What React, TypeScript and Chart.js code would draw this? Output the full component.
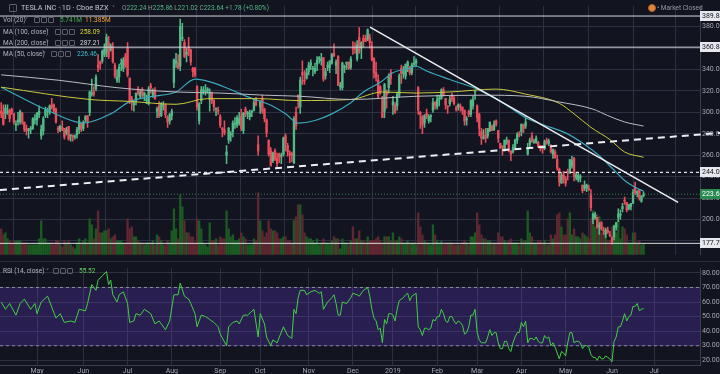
import React, { useEffect, useRef } from 'react';
import { Chart, registerables } from 'chart.js';

Chart.register(...registerables);

// ---------------- DATA (daily, TSLA, Apr 6 2018 .. Jun 24 2019) ----------------
const opens = [
  301,300,299,300,302,303,299,288,291,291,
  299,291,285,283,284,285,293,293,298,278,
  283,297,301,300,307,307,303,285,283,286,
  285,281,287,278,278,277,279,284,290,285,
  293,297,300,317,319,322,344,347,348,354,
  356,365,358,361,344,330,333,345,341,353,
  360,332,313,307,311,322,315,321,315,311,
  308,325,316,321,301,306,297,306,307,295,
  292,297,328,346,346,343,369,365,354,361,
  358,341,341,324,292,311,320,319,320,312,
  318,311,303,302,296,285,284,260,274,279,
  282,289,288,290,296,283,303,299,296,300,
  302,312,270,305,313,303,293,274,264,255,
  264,257,261,259,261,278,269,262,261,253,
  300,316,305,337,330,332,338,344,340,338,
  345,350,348,351,334,342,342,346,355,344,
  352,324,323,342,345,347,342,360,360,350,
  370,360,369,369,368,370,362,350,337,330,
  324,314,301,319,323,337,307,307,306,316,
  341,336,334,343,342,337,345,346,323,300,
  296,290,299,292,296,302,309,305,312,313,
  321,313,306,308,316,313,304,305,306,305,
  302,293,301,298,306,319,306,298,282,276,
  279,278,283,287,284,292,283,271,268,264,
  272,274,264,263,267,274,280,282,288,287,
  261,270,278,272,272,272,269,267,266,274,
  271,269,261,263,256,247,234,242,238,245,
  243,250,257,239,237,239,232,229,229,229,
  224,200,202,202,193,197,190,186,190,186,
  183,184,193,202,204,210,218,216,210,212,
  215,230,224,228,217,222.24,
];
const highs = [
  309,307,307,307,303,304,299,292,300,302,
  300,291,288,285,287,295,298,300,306,288,
  296,305,304,307,313,308,304,287,288,292,
  285,286,287,279,279,279,286,296,290,292,
  297,297,320,331,324,335,354,348,358,364,
  373,371,364,365,346,340,345,350,351,355,
  365,332,315,310,318,324,321,323,319,316,
  324,327,322,323,305,310,309,310,308,297,
  299,303,350,355,354,387,383,368,360,370,
  359,342,342,325,309,324,324,326,323,322,
  319,312,304,305,298,286,292,269,286,282,
  292,295,297,300,303,300,305,301,302,302,
  313,314,278,311,316,304,294,274,267,263,
  266,262,262,262,277,280,271,264,263,296,
  305,316,333,348,339,341,347,349,343,346,
  352,352,355,351,341,347,348,355,364,349,
  353,328,347,344,347,347,352,366,365,367,
  379,366,372,372,378,373,366,351,347,335,
  325,315,327,321,336,340,315,309,319,336,
  344,343,345,348,343,346,352,350,324,301,
  297,298,303,298,298,313,310,316,316,322,
  323,313,306,315,318,315,306,308,308,305,
  302,296,302,312,315,320,307,299,285,284,
  285,285,291,288,292,293,283,271,269,274,
  277,274,264,270,275,281,282,289,289,296,
  271,276,281,275,278,273,269,269,274,276,
  275,270,266,265,260,248,244,245,240,247,
  256,259,258,244,243,242,232,236,233,232,
  228,206,207,202,197,198,193,192,193,189,
  184,194,197,210,209,215,221,216,214,215,
  228,235,227,228,222,225.86,
];
const lows = [
  295,288,294,298,291,298,289,283,288,289,
  289,282,279,276,280,284,289,288,295,275,
  279,295,295,298,303,299,290,281,282,283,
  275,279,274,273,273,275,276,280,282,283,
  291,286,297,315,315,320,338,340,346,352,
  352,350,357,346,332,328,328,339,338,342,
  333,308,302,301,307,316,313,314,311,308,
  307,318,314,312,295,295,296,302,295,286,
  289,293,323,342,341,339,367,351,347,353,
  344,333,333,302,289,308,317,316,318,301,
  308,301,297,298,286,277,279,252,271,273,
  277,285,286,288,283,280,296,294,293,296,
  301,306,260,299,299,291,277,259,250,253,
  255,249,253,252,259,264,259,253,254,252,
  284,304,299,326,326,331,335,340,334,336,
  339,346,344,329,331,339,337,345,352,336,
  325,321,321,337,340,340,340,354,355,348,
  355,350,361,366,367,360,348,332,329,313,
  317,295,295,304,318,326,298,299,302,314,
  327,332,331,338,335,335,343,343,298,285,
  280,286,294,290,291,300,303,303,306,312,
  315,303,299,306,310,307,301,302,301,298,
  288,288,296,296,303,312,291,278,270,275,
  272,276,282,283,283,287,272,266,260,264,
  270,263,255,262,266,271,277,278,281,285,
  260,268,272,271,271,267,264,262,265,270,
  269,262,257,257,246,231,234,234,231,237,
  243,248,236,237,235,235,225,227,226,227,
  208,196,200,192,186,190,186,183,187,184,
  177,181,190,198,200,207,214,207,209,209,
  215,223,221,218,216,221.02,
];
const closes = [
  299,289,304,301,294,300,291,288,293,301,
  291,284,283,283,285,294,293,299,301,284,
  294,302,301,306,305,301,291,284,287,285,
  277,284,275,279,277,278,284,292,284,291,
  296,291,319,317,317,333,342,345,357,359,
  370,352,362,347,334,333,342,345,349,343,
  335,310,309,309,318,318,319,316,318,311,
  322,323,320,313,303,297,308,306,298,291,
  298,301,349,348,341,380,370,352,356,357,
  347,338,335,305,308,321,321,320,322,319,
  311,305,303,301,288,284,281,263,285,280,
  290,289,295,294,285,299,298,299,299,300,
  309,307,264,310,301,294,281,261,250,262,
  256,252,258,259,276,271,263,260,260,294,
  288,314,330,335,329,337,344,346,341,341,
  349,351,350,331,338,344,348,354,353,347,
  325,325,346,343,347,341,350,359,359,363,
  357,365,366,366,377,365,349,337,333,315,
  319,295,326,316,333,332,310,300,317,334,
  336,338,345,347,337,344,345,348,302,298,
  288,297,297,296,297,309,307,312,313,321,
  316,307,305,312,312,308,303,307,305,302,
  292,294,298,311,312,319,295,285,276,276,
  276,285,291,283,289,289,276,267,267,274,
  274,264,261,267,274,279,279,289,285,291,
  267,274,273,272,276,268,267,266,273,271,
  273,263,265,258,248,235,241,238,234,244,
  256,255,240,242,241,240,227,232,232,228,
  211,205,205,193,195,191,189,190,188,185,
  179,194,197,205,205,212,217,209,214,215,
  225,225,226,220,222,223.64,
];
// volume, millions of shares
const volumes = [
  13,10,11,8,7,6,7,7,7,7,
  6,6,6,5,5,5,5,5,8,17,
  8,8,6,6,6,5,7,7,5,4,
  7,6,7,5,4,3,6,8,6,7,
  8,6,18,15,8,13,22,11,11,12,
  12,13,8,9,10,7,7,7,6,6,
  18,13,14,9,9,7,6,6,5,6,
  6,6,7,5,10,9,7,5,5,7,
  6,12,23,13,8,30,24,17,11,11,
  9,9,6,18,17,13,6,5,4,16,
  7,7,8,5,9,8,8,22,13,9,
  10,7,7,8,11,9,8,5,5,5,
  8,7,31,17,12,9,11,17,13,12,
  12,11,8,8,9,9,7,7,6,17,
  19,25,25,20,11,9,8,8,7,6,
  8,5,6,8,6,6,5,7,9,8,
  8,3,8,6,6,5,7,14,8,8,
  12,7,7,6,9,7,7,7,8,9,
  7,6,9,9,9,7,11,7,7,9,
  8,6,6,7,6,6,6,5,21,14,
  10,7,6,6,5,15,10,7,6,7,
  5,6,6,6,6,5,5,5,5,6,
  7,6,5,9,9,11,21,15,10,8,
  8,7,7,6,6,6,11,9,9,7,
  6,7,8,6,6,6,5,8,7,7,
  22,11,9,6,6,7,7,6,7,5,
  5,10,8,10,20,21,14,10,10,18,
  21,10,13,9,9,8,11,10,9,8,
  18,22,14,20,19,11,10,13,7,7,
  14,15,11,18,8,14,13,10,6,6,
  11,11,6,7,5,5.741,
];

// moving averages (trading-day index, value)
const ma50Days = [0,23,39,52,61,71,83,92,100,108,119,127,135,141,149,157,166,172,180,186,194,197,202,213,226,235,242,249,258,268,277,284,290,296,301,305];
const ma50Values = [323.5,301,290,298.6,310,314.6,319,331,328,322,313,307.5,298.6,290,292.4,298.6,309,319,328,337,341,343,338.6,330.6,321.7,312.8,304,295,288,280.8,270,259.5,248,236.4,230,226.46];
const ma100Days = [0,42,61,83,98,122,141,166,181,197,213,235,249,265,272,280,289,296,305];
const ma100Values = [323.5,312,310.2,307.5,312.8,312.8,311,312,319,318,319,321.7,317,308.4,298.6,286,274.6,263,258.09];
const ma200Days = [0,27,55,83,104,125,142,166,197,229,249,264,281,288,296,305];
const ma200Values = [335,330,323,319,318,316,315,312,315,316,315,310,303,297,291,287.21];

// RSI(14)
const rsiDays = [0,2,4,7,9,11,14,16,17,19,22,26,28,30,33,35,37,40,41,43,45,46,48,50,51,52,53,55,56,58,60,61,63,64,66,68,71,73,75,78,80,82,84,85,87,89,90,92,93,95,97,99,101,103,104,107,108,110,112,113,115,117,120,122,123,125,126,128,129,131,134,136,138,139,140,141,142,144,145,147,149,151,152,153,155,157,158,159,160,161,162,164,166,167,169,170,172,174,175,176,177,178,179,180,181,182,183,184,185,186,187,188,189,190,191,192,193,194,195,196,197,198,199,200,201,202,203,204,205,206,207,208,209,210,211,212,213,214,215,216,217,218,219,220,221,222,223,224,225,226,227,228,229,230,231,232,233,234,235,236,237,238,239,240,241,242,243,244,245,246,247,248,249,250,251,252,253,254,255,256,257,258,259,260,261,262,263,264,265,266,267,268,269,270,271,272,273,274,275,276,277,278,279,280,281,282,283,284,285,286,287,288,289,290,291,292,293,294,295,296,297,298,299,300,301,302,303,304,305];
const rsiValues = [60,55,59,51,59,62,55,59,52,60,64,49,52,46,47,46,55,54,59,72,68,75,78,81,72,75,65,60,65,67,59,46,47,52,51,55,52,45,47,41,47,65,65,73,64,62,59,52,43,51,50,48,46,43,38,30,43,46,47,45,51,51,55,36,52,45,36,30,34,32,43,37,35,55,52,63,68,68,65,67,68,66,67,55,60,63,65,59,51,51,60,59,63,66,65,64,68,70,64,55,49,47,41,42,32,48,45,52,52,51,47,55,61,62,63,65,66,61,64,65,66,43,41,37,42,42,41,42,48,47,50,50,55,52,47,46,50,50,47,45,47,46,44,38,39,43,51,51,55,39,34,32,32,32,36,41,37,39,39,32,28,28,33,33,28,26,32,36,39,39,46,43,47,32,35,35,34,36,33,32,32,37,35,36,30,32,29,25,21,26,25,23,32,39,39,32,33,33,32,28,30,30,29,24,22,22,20,23,21,21,23,22,21,19,33,36,43,43,47,52,47,50,51,57,57,59,54,55,55.52];

// time axis
const monthTickDays = [17,39,60,81,104,123,146,167,186,207,226,247,268,290,310];
const monthTickLabels = ['May','Jun','Jul','Aug','Sep','Oct','Nov','Dec','2019','Feb','Mar','Apr','May','Jun','Jul'];
const priceTicks = [180,200,220,240,260,280,300,320,340,360,380];
const rsiTicks = [20,30,40,50,60,70,80];

// drawings
const solidLevels = [389.88, 360.84, 177.70];
const dashedLevels = [244.0];
const lastPrice = 223.64;
const downTrendDays = [175.1, 321.4];
const downTrendPrices = [379.5, 215.9];
const upTrendDays = [-0.6, 341.3];
const upTrendPrices = [227.5, 280.8];

// ---------------- STYLE ----------------
const BG = '#121520';
const GRID = '#2c3040';
const AXIS_LINE = '#3c404c';
const AXIS_TXT = '#a3a6af';
const UP = '#53b987';
const DOWN = '#eb4d5c';
const VOL_UP = '#1b5a22';
const VOL_DOWN = '#5f2731';
const X_MIN = -0.57;
const X_MAX = 331.8;
const MAIN_H = 261;
const RSI_TOP = 262;
const RSI_H = 112;
const FONT = 'Roboto, "DejaVu Sans", sans-serif';

const pairs = (xs: number[], ys: number[]) => xs.map((x, k) => ({ x, y: ys[k] }));
const level = (v: number) => [{ x: X_MIN, y: v }, { x: X_MAX, y: v }];

function Txt({ x, y, s = 6.5, c = '#b2b5be', children }: any) {
  return (
    <span style={{ position: 'absolute', left: x, top: y - 6, height: 12, lineHeight: '12px', fontSize: s, color: c, fontFamily: FONT, whiteSpace: 'nowrap' }}>{children}</span>
  );
}
function Btn({ x, y }: any) {
  return <span style={{ position: 'absolute', left: x, top: y - 3, width: 4, height: 4, border: '1px solid #5d606b', borderRadius: 1 }} />;
}

export default function App() {
  const mainRef = useRef<HTMLCanvasElement>(null);
  const rsiRef = useRef<HTMLCanvasElement>(null);

  useEffect(() => {
    document.body.style.margin = '0';
    document.body.style.background = BG;
    const days = opens.map((_, i) => i);
    const up = days.map((i) => closes[i] >= opens[i]);
    const candleColors = days.map((i) => (up[i] ? UP : DOWN));
    const volColors = days.map((i) => (up[i] ? VOL_UP : VOL_DOWN));

    const axisBoxes = {
      id: 'axisBoxes',
      afterDraw(chart: any) {
        const { ctx } = chart;
        const y = chart.scales.y;
        const boxes: [number, string, string][] = [
          ...solidLevels.map((v) => [v, '#e6e8ee', '#131722'] as [number, string, string]),
          ...dashedLevels.map((v) => [v, '#e6e8ee', '#131722'] as [number, string, string]),
          [lastPrice, '#2a8a52', '#ffffff'],
        ];
        ctx.save();
        ctx.font = '7px ' + FONT;
        ctx.textBaseline = 'middle';
        boxes.forEach(([v, bg, fg]) => {
          const py = y.getPixelForValue(v);
          ctx.fillStyle = bg;
          ctx.fillRect(700, Math.round(py) - 5, 20, 10);
          ctx.fillStyle = fg;
          ctx.fillText(v.toFixed(2), 702, Math.round(py) + 0.5);
        });
        ctx.restore();
      },
    };

    const xCommon = {
      type: 'linear',
      min: X_MIN,
      max: X_MAX,
      offset: false,
      afterBuildTicks: (s: any) => { s.ticks = monthTickDays.map((v) => ({ value: v })); },
      grid: { color: GRID, drawTicks: false, lineWidth: 1 },
    };

    const main = new Chart(mainRef.current as HTMLCanvasElement, {
      type: 'bar',
      data: {
        datasets: [
          { type: 'bar', label: 'Vol', yAxisID: 'yv', data: days.map((i) => ({ x: i, y: volumes[i] })), backgroundColor: volColors, barThickness: 1.7, grouped: false, order: 10 } as any,
          { type: 'bar', label: 'wick', yAxisID: 'y', data: days.map((i) => ({ x: i, y: [lows[i], highs[i]] })), backgroundColor: candleColors, barThickness: 0.9, grouped: false, order: 6 } as any,
          { type: 'bar', label: 'body', yAxisID: 'y', data: days.map((i) => ({ x: i, y: [opens[i], closes[i]] })), backgroundColor: candleColors, barThickness: 1.7, minBarLength: 1, grouped: false, order: 5 } as any,
          { type: 'line', label: 'MA200', yAxisID: 'y', data: pairs(ma200Days, ma200Values), borderColor: '#b9bcc4', borderWidth: 1, pointRadius: 0, cubicInterpolationMode: 'monotone', order: 3 } as any,
          { type: 'line', label: 'MA100', yAxisID: 'y', data: pairs(ma100Days, ma100Values), borderColor: '#c9c93c', borderWidth: 1, pointRadius: 0, cubicInterpolationMode: 'monotone', order: 3 } as any,
          { type: 'line', label: 'MA50', yAxisID: 'y', data: pairs(ma50Days, ma50Values), borderColor: '#3aa9bb', borderWidth: 1.2, pointRadius: 0, cubicInterpolationMode: 'monotone', order: 3 } as any,
          ...solidLevels.map((v) => ({ type: 'line', yAxisID: 'y', data: level(v), borderColor: '#d6d8de', borderWidth: 1, pointRadius: 0, order: 2 } as any)),
          ...dashedLevels.map((v) => ({ type: 'line', yAxisID: 'y', data: level(v), borderColor: '#e0e2e8', borderWidth: 1.2, borderDash: [3, 3], pointRadius: 0, order: 2 } as any)),
          { type: 'line', yAxisID: 'y', data: level(lastPrice), borderColor: '#2f7d4c', borderWidth: 1, borderDash: [1, 2], pointRadius: 0, order: 2 } as any,
          { type: 'line', yAxisID: 'y', data: pairs(downTrendDays, downTrendPrices), borderColor: '#eceef2', borderWidth: 1.5, pointRadius: 0, order: 1 } as any,
          { type: 'line', yAxisID: 'y', data: pairs(upTrendDays, upTrendPrices), borderColor: '#eceef2', borderWidth: 2, borderDash: [7, 5], pointRadius: 0, clip: false, order: 1 } as any,
        ],
      },
      options: {
        responsive: false,
        animation: false,
        devicePixelRatio: 1,
        layout: { padding: 0, autoPadding: false },
        plugins: { legend: { display: false }, tooltip: { enabled: false } },
        scales: {
          x: { ...xCommon, display: true, ticks: { display: false }, border: { display: false }, afterFit: (s: any) => { s.height = 0; } } as any,
          y: {
            type: 'linear', position: 'right', min: 167.03, max: 399.07,
            afterBuildTicks: (s: any) => { s.ticks = priceTicks.map((v) => ({ value: v })); },
            afterFit: (s: any) => { s.width = 20; },
            ticks: { color: AXIS_TXT, font: { size: 7, family: FONT }, padding: 2, autoSkip: false, callback: (v: any) => Number(v).toFixed(2) },
            grid: { color: GRID, drawTicks: false },
            border: { display: true, color: AXIS_LINE },
          } as any,
          yv: { type: 'linear', display: false, min: 0, max: 124.3 } as any,
        },
      },
      plugins: [axisBoxes],
    } as any);

    const rsi = new Chart(rsiRef.current as HTMLCanvasElement, {
      type: 'line',
      data: {
        datasets: [
          { data: level(70), borderColor: '#8d909b', borderWidth: 1, borderDash: [3, 3], pointRadius: 0, fill: '+1', backgroundColor: 'rgba(112, 62, 230, 0.24)', order: 5 },
          { data: level(30), borderColor: '#8d909b', borderWidth: 1, borderDash: [3, 3], pointRadius: 0, fill: false, order: 5 },
          { data: pairs(rsiDays, rsiValues), borderColor: '#44d044', borderWidth: 1, pointRadius: 0, tension: 0, order: 1 },
        ],
      },
      options: {
        responsive: false,
        animation: false,
        devicePixelRatio: 1,
        layout: { padding: 0, autoPadding: false },
        plugins: { legend: { display: false }, tooltip: { enabled: false } },
        scales: {
          x: {
            ...xCommon,
            display: true,
            position: 'bottom',
            afterFit: (s: any) => { s.height = 9; },
            ticks: { color: AXIS_TXT, font: { size: 7, family: FONT }, padding: 2, maxRotation: 0, autoSkip: false,
              callback: (v: any) => { const k = monthTickDays.indexOf(Number(v)); return k >= 0 ? monthTickLabels[k] : ''; } },
            border: { display: true, color: AXIS_LINE },
          } as any,
          y: {
            type: 'linear', position: 'right', min: 16.77, max: 83.23,
            afterBuildTicks: (s: any) => { s.ticks = rsiTicks.map((v) => ({ value: v })); },
            afterFit: (s: any) => { s.width = 20; },
            ticks: { color: AXIS_TXT, font: { size: 7, family: FONT }, padding: 2, autoSkip: false, callback: (v: any) => Number(v).toFixed(2) },
            grid: { color: GRID, drawTicks: false },
            border: { display: true, color: AXIS_LINE },
          } as any,
        },
      },
    } as any);

    return () => { main.destroy(); rsi.destroy(); };
  }, []);

  const g = '#53b987';
  const l = '#8f929c';
  return (
    <div style={{ position: 'fixed', left: 0, top: 0, width: 720, height: 374, background: BG, overflow: 'hidden' }}>
      <canvas ref={mainRef} width={720} height={MAIN_H} style={{ position: 'absolute', left: 0, top: 0 }} />
      <div style={{ position: 'absolute', left: 0, top: MAIN_H, width: 720, height: 1, background: '#2b2f3b' }} />
      <canvas ref={rsiRef} width={720} height={RSI_H} style={{ position: 'absolute', left: 0, top: RSI_TOP }} />

      <span style={{ position: 'absolute', left: 9, top: 4, width: 6, height: 6, border: '1px solid #5d606b', borderRadius: 1 }} />
      <Txt x={21} y={7.5} s={7.3} c="#c3c6ce">TESLA INC · 1D · Cboe BZX</Txt>
      <Txt x={112} y={7.5} s={6} c="#8f929c">˅</Txt>
      <Txt x={122} y={7.5}>
        <span style={{ color: l }}>O</span><span style={{ color: g }}>222.24</span>{' '}
        <span style={{ color: l }}>H</span><span style={{ color: g }}>225.86</span>{' '}
        <span style={{ color: l }}>L</span><span style={{ color: g }}>221.02</span>{' '}
        <span style={{ color: l }}>C</span><span style={{ color: g }}>223.64</span>{' '}
        <span style={{ color: g }}>+1.78 (+0.80%)</span>
      </Txt>

      <Txt x={3} y={20}>Vol (20)</Txt>
      <Txt x={25} y={20} s={6} c={l}>˅</Txt>
      <Btn x={34} y={20} /><Btn x={41} y={20} /><Btn x={48} y={20} />
      <Txt x={60} y={20} c="#47b04b">5.741M</Txt>
      <Txt x={85} y={20} c="#f0a030">11.385M</Txt>

      <Txt x={3} y={31.5}>MA (100, close)</Txt>
      <Txt x={46} y={31.5} s={6} c={l}>˅</Txt>
      <Btn x={55} y={31.5} /><Btn x={62} y={31.5} /><Btn x={69} y={31.5} />
      <Txt x={80} y={31.5} c="#d6d636">258.09</Txt>

      <Txt x={3} y={42.5}>MA (200, close)</Txt>
      <Txt x={46} y={42.5} s={6} c={l}>˅</Txt>
      <Btn x={55} y={42.5} /><Btn x={62} y={42.5} /><Btn x={69} y={42.5} />
      <Txt x={80} y={42.5} c="#d8d9dd">287.21</Txt>

      <Txt x={3} y={53.5}>MA (50, close)</Txt>
      <Txt x={43} y={53.5} s={6} c={l}>˅</Txt>
      <Btn x={51} y={53.5} /><Btn x={58} y={53.5} /><Btn x={65} y={53.5} />
      <Txt x={77} y={53.5} c="#3fbfd0">226.46</Txt>

      <Txt x={3} y={271}>RSI (14, close)</Txt>
      <Txt x={46} y={271} s={6} c={l}>˅</Txt>
      <Btn x={53} y={271} /><Btn x={60} y={271} /><Btn x={67} y={271} />
      <Txt x={79} y={271} c="#5fd35f">55.52</Txt>

      <span style={{ position: 'absolute', left: 647.5, top: 4, width: 6, height: 6, borderRadius: 4, background: '#e0873c', border: '1px solid #a85f25' }} />
      <Txt x={657} y={7.5} c="#9598a1">• Market Closed</Txt>
    </div>
  );
}
